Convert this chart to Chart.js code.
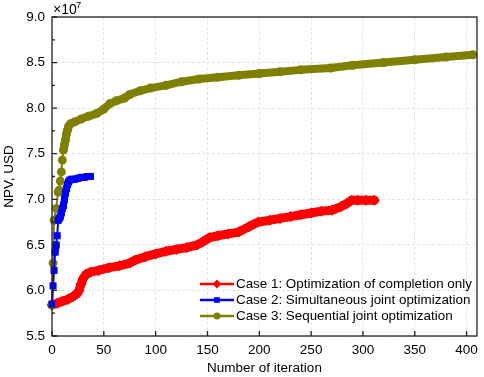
<!DOCTYPE html>
<html>
<head>
<meta charset="utf-8">
<script src="https://cdn.jsdelivr.net/npm/chart.js@4/dist/chart.umd.min.js"></script>
<style>
  html, body { margin: 0; padding: 0; background: #fff; }
  #wrap { width: 484px; height: 377px; position: relative; }
</style>
</head>
<body>
<div id="wrap"><canvas id="npv"></canvas></div>
<script>
"use strict";

// NPV values are in units of 1e7 USD
const case1Iter = [0,5,10,15,20,24,26,28,30,33,37,45,55,65,75,80,90,100,110,120,130,140,145,152,160,170,180,190,199,210,220,230,240,250,260,270,279,284,289,295,303,311];
const case1Npv  = [5.84,5.86,5.88,5.90,5.93,5.96,6.00,6.07,6.13,6.18,6.20,6.22,6.25,6.27,6.30,6.33,6.37,6.40,6.43,6.45,6.47,6.50,6.53,6.58,6.60,6.62,6.64,6.70,6.75,6.77,6.79,6.81,6.83,6.85,6.87,6.88,6.92,6.95,6.99,6.99,6.99,6.99];

const case2Iter = [0,1,2,3,4,5,6,7,8,9,10,11,12,13,14,15,16,17,19,22,25,28,31,34,37];
const case2Npv  = [5.85,6.05,6.22,6.42,6.50,6.60,6.77,6.79,6.81,6.85,6.90,6.93,7.00,7.07,7.12,7.16,7.19,7.21,7.22,7.22,7.23,7.24,7.24,7.25,7.25];

const case3Iter = [0,1,2,4,6,7,8,9,10,11,12,13,14,15,16,18,22,28,35,43,50,56,62,70,75,85,95,110,125,142,160,180,200,220,240,269,290,320,350,380,406];
const case3Npv  = [5.84,6.30,6.77,6.90,7.08,7.10,7.20,7.30,7.43,7.54,7.60,7.65,7.72,7.76,7.80,7.83,7.85,7.88,7.91,7.94,7.99,8.05,8.08,8.11,8.15,8.19,8.22,8.25,8.29,8.32,8.34,8.36,8.38,8.40,8.42,8.44,8.47,8.50,8.53,8.56,8.585];

const seriesLabels = [
  'Case 1: Optimization of completion only',
  'Case 2: Simultaneous joint optimization',
  'Case 3: Sequential joint optimization',
];
const xTicks = [0, 50, 100, 150, 200, 250, 300, 350, 400];
const yTicks = [5.5, 6.0, 6.5, 7.0, 7.5, 8.0, 8.5, 9.0];

const FONT = 'Arial, "Liberation Sans", sans-serif';

function points(xs, ys) {
  return xs.map((x, i) => ({ x: x, y: ys[i] }));
}

// thin line where markers are spread apart, thick where they pile up
function segWidth(thick) {
  return ctx => {
    const dx = ctx.p1.x - ctx.p0.x;
    const dy = ctx.p1.y - ctx.p0.y;
    const steep = Math.abs(dy) > 2.5 * Math.abs(dx);
    return steep && Math.hypot(dx, dy) > 8 ? 2 : thick;
  };
}

function series(label, xs, ys, color, style, radius, thick, order) {
  return {
    label: label,
    data: points(xs, ys),
    borderColor: color,
    backgroundColor: color,
    borderWidth: thick,
    pointStyle: style,
    pointRadius: radius,
    pointBorderWidth: 0,
    pointHoverRadius: radius,
    borderCapStyle: 'round',
    borderJoinStyle: 'round',
    segment: { borderWidth: segWidth(thick) },
    order: order,
    clip: 8,
  };
}

const frame = {
  id: 'frame',
  afterDraw(chart) {
    const { ctx, chartArea: a, scales } = chart;
    ctx.save();
    ctx.strokeStyle = '#222';
    ctx.lineWidth = 1.3;
    ctx.strokeRect(a.left, a.top, a.right - a.left, a.bottom - a.top);
    ctx.beginPath();
    xTicks.forEach(v => {
      const px = scales.x.getPixelForValue(v);
      ctx.moveTo(px, a.bottom); ctx.lineTo(px, a.bottom - 5);
    });
    yTicks.forEach(v => {
      const py = scales.y.getPixelForValue(v);
      ctx.moveTo(a.left, py); ctx.lineTo(a.left + 5, py);
      if (v < 9) {
        const pm = scales.y.getPixelForValue(v + 0.25);
        ctx.moveTo(a.left, pm); ctx.lineTo(a.left + 3, pm);
      }
    });
    ctx.stroke();

    // exponent label
    ctx.fillStyle = '#000';
    ctx.textBaseline = 'alphabetic';
    ctx.textAlign = 'left';
    ctx.font = '14px ' + FONT;
    ctx.fillText('\u00d710', a.left + 1, a.top - 3);
    ctx.font = '9.5px ' + FONT;
    ctx.fillText('7', a.left + 24, a.top - 9);

    // legend inside the plot, lower right
    const lx = a.right - 277;
    let ly = a.bottom - 52;
    chart.data.datasets.forEach(ds => {
      ctx.strokeStyle = ds.borderColor;
      ctx.fillStyle = ds.borderColor;
      ctx.lineWidth = 2.5;
      ctx.beginPath();
      ctx.moveTo(lx, ly); ctx.lineTo(lx + 34, ly);
      ctx.stroke();
      const r = ds.pointStyle === 'rectRot' ? 4.5 : (ds.pointStyle === 'rect' ? 4 : 3.5);
      Chart.helpers.drawPoint(ctx, { pointStyle: ds.pointStyle, radius: r, rotation: 0, borderWidth: 0 }, lx + 17, ly);
      ctx.fillStyle = '#000';
      ctx.font = '13.4px ' + FONT;
      ctx.textBaseline = 'middle';
      ctx.fillText(ds.label, lx + 36, ly + 0.5);
      ly += 16;
    });
    ctx.restore();
  }
};

new Chart(document.getElementById('npv'), {
  type: 'line',
  data: {
    datasets: [
      series(seriesLabels[0], case1Iter, case1Npv, '#ff0000', 'rectRot', 5.5, 9, 3),
      series(seriesLabels[1], case2Iter, case2Npv, '#0000ff', 'rect', 5, 7, 1),
      series(seriesLabels[2], case3Iter, case3Npv, '#808000', 'circle', 4.5, 8, 2),
    ],
  },
  options: {
    responsive: true,
    maintainAspectRatio: false,
    animation: false,
    events: [],
    layout: { padding: { top: 17, right: 4, left: 0, bottom: 0 } },
    plugins: { legend: { display: false }, tooltip: { enabled: false } },
    scales: {
      x: {
        type: 'linear',
        min: 0,
        max: 410,
        afterBuildTicks: s => { s.ticks = xTicks.map(v => ({ value: v })); },
        afterFit: s => { s.height = 41; },
        grid: { color: '#e4e4e4', drawTicks: false },
        border: { display: false, dash: [3, 2] },
        ticks: { color: '#000', font: { family: FONT, size: 13.5 }, padding: 6, maxRotation: 0 },
        title: { display: true, text: 'Number of iteration', color: '#000',
                 font: { family: FONT, size: 13.5 }, padding: { top: 0, bottom: 1 } },
      },
      y: {
        type: 'linear',
        min: 5.5,
        max: 9.0,
        afterBuildTicks: s => { s.ticks = yTicks.map(v => ({ value: v })); },
        afterFit: s => { s.width = 52; },
        grid: { color: '#e4e4e4', drawTicks: false },
        border: { display: false, dash: [3, 2] },
        ticks: { color: '#000', font: { family: FONT, size: 13.5 }, padding: 7,
                 callback: v => Number(v).toFixed(1) },
        title: { display: true, text: 'NPV, USD', color: '#000',
                 font: { family: FONT, size: 13.5 }, padding: { top: 1, bottom: 0 } },
      },
    },
  },
  plugins: [frame],
});
</script>
</body>
</html>
